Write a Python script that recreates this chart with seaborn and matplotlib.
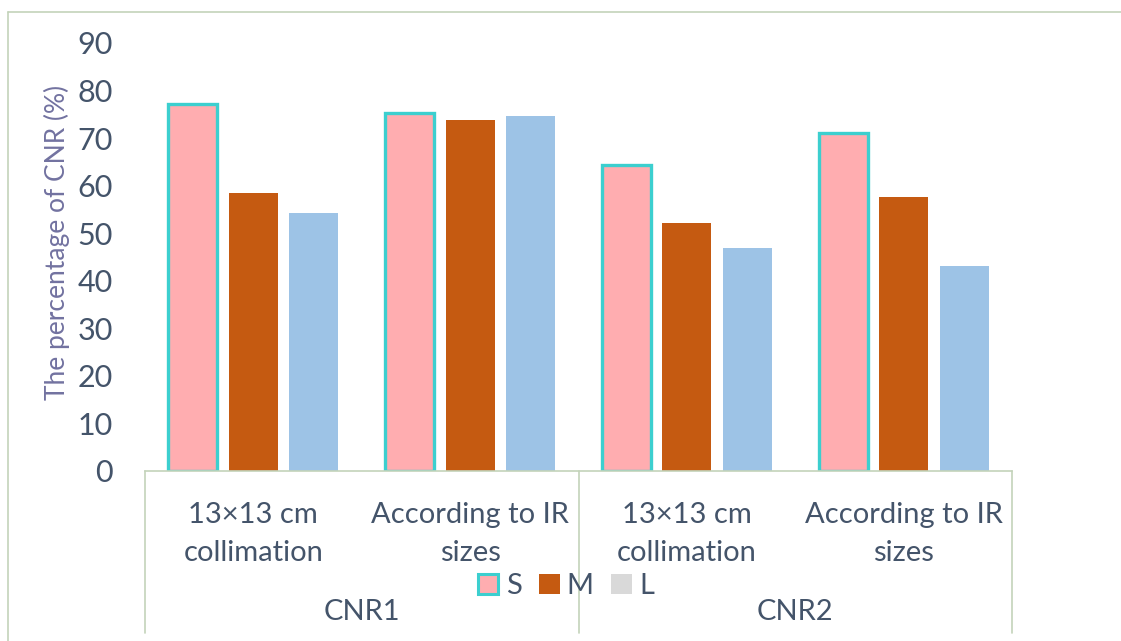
import matplotlib
matplotlib.use("Agg")
import matplotlib.pyplot as plt
from matplotlib.lines import Line2D
from matplotlib.patches import Patch
from matplotlib.transforms import blended_transform_factory
import pandas as pd
import seaborn as sns

# ---- data -------------------------------------------------------------
groups = ["CNR1", "CNR2"]
settings = ["13×13 cm\ncollimation", "According to IR\nsizes"]
sizes = ["S", "M", "L"]
values_S = [77.2, 75.3, 64.4, 71.1]
values_M = [58.5, 73.9, 52.2, 57.7]
values_L = [54.3, 74.7, 46.8, 43.2]
y_ticks = [0, 10, 20, 30, 40, 50, 60, 70, 80, 90]
y_label = "The percentage of CNR (%)"

# ---- styling ----------------------------------------------------------
TEXT = "#44546A"
YLAB = "#7272A0"
LINE = "#C3D3BA"
col_S, col_M, col_L = "#FFADB0", "#C55A11", "#9DC3E6"
edge_S = "#3CCFCF"
legend_L = "#D9D9D9"
FS = 21

sns.set_theme(style="white")
plt.rcParams["font.family"] = ["Lato", "DejaVu Sans"]

cats = [f"{g} {s}" for g in groups for s in settings]
rows = []
for i, c in enumerate(cats):
    rows.append({"cat": c, "size": "S", "value": values_S[i]})
    rows.append({"cat": c, "size": "M", "value": values_M[i]})
    rows.append({"cat": c, "size": "L", "value": values_L[i]})
df = pd.DataFrame(rows)

fig = plt.figure(figsize=(11.21, 6.41), dpi=100)
W, H = 1121, 641
ax = fig.add_axes([145 / W, 1 - 471 / H, (1012 - 145) / W, (471 - 43) / H])

sns.barplot(data=df, x="cat", y="value", hue="size", order=cats,
            hue_order=sizes, palette=[col_S, col_M, col_L],
            width=0.837, gap=0.19, saturation=1, ax=ax, legend=False,
            linewidth=0)

# outline on the S bars
for bar in ax.containers[0]:
    bar.set_edgecolor(edge_S)
    bar.set_linewidth(2.4)

ax.set_xlim(-0.5, len(cats) - 0.5)
ax.set_ylim(0, 90)
ax.set_yticks(y_ticks)
ax.set_yticklabels([str(t) for t in y_ticks])
ax.tick_params(axis="y", length=0, pad=23, labelsize=FS + 1, labelcolor=TEXT)
ax.set_xticks(range(len(cats)))
ax.set_xticklabels([s for g in groups for s in settings])
ax.tick_params(axis="x", length=0, pad=22, labelsize=FS, labelcolor=TEXT)
for lab in ax.get_xticklabels():
    lab.set_linespacing(1.6)

ax.set_xlabel("")
ax.set_ylabel(y_label, fontsize=19, color=YLAB)
ax.yaxis.set_label_coords((70 - 145) / (1012 - 145), (471 - 242) / (471 - 43))

for side in ["top", "right", "left"]:
    ax.spines[side].set_visible(False)
ax.spines["bottom"].set_color(LINE)
ax.spines["bottom"].set_linewidth(1.2)

# category box lines below the axis
tr = blended_transform_factory(ax.transData, fig.transFigure)
for xpos in [-0.5, 1.5, 3.5]:
    fig.add_artist(Line2D([xpos, xpos], [1 - 471 / H, 1 - 633 / H],
                          transform=tr, color=LINE, lw=1.2))

# outer group labels
for gi, g in enumerate(groups):
    ax.text(gi * 2 + 0.5, 1 - 612 / H, g, transform=tr, ha="center",
            va="center", fontsize=FS, color=TEXT)

# chart border (left and top)
fig.add_artist(Line2D([8 / W, 8 / W], [0, 1 - 12 / H], color=LINE, lw=1.2))
fig.add_artist(Line2D([8 / W, 1], [1 - 12 / H, 1 - 12 / H], color=LINE, lw=1.2))

handles = [Patch(facecolor=col_S, edgecolor=edge_S, linewidth=2.2),
           Patch(facecolor=col_M, edgecolor="none"),
           Patch(facecolor=legend_L, edgecolor="none")]
fig.legend(handles, sizes, loc="center", bbox_to_anchor=(566 / W, 1 - 586 / H),
           ncol=3, frameon=False, fontsize=FS, labelcolor=TEXT,
           handlelength=0.7, handleheight=0.7, handletextpad=0.25,
           columnspacing=0.6)

fig.savefig("out.png", dpi=100, facecolor="white")
